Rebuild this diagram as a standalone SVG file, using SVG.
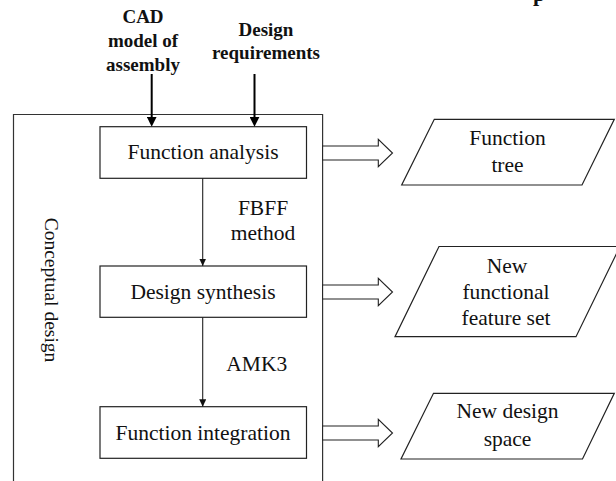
<svg xmlns="http://www.w3.org/2000/svg" width="616" height="481" viewBox="0 0 616 481" font-family="'Liberation Serif', Tinos, 'Times New Roman', serif">
  <style>
    text { font-family: 'Liberation Serif', Tinos, 'Times New Roman', serif; fill: #111; text-anchor: middle; }
    .t { font-size: 21.5px; }
    .b { font-size: 19px; font-weight: bold; }
    .box { fill: #fff; stroke: #222; stroke-width: 1.2; }
    .frame { fill: none; stroke: #333; stroke-width: 1.2; }
    .thin { fill: none; stroke: #222; stroke-width: 1.1; marker-end: url(#headS); }
    .thick { fill: none; stroke: #000; stroke-width: 2; marker-end: url(#headL); }
    .block { fill: #fff; stroke: #222; stroke-width: 1.1; stroke-linejoin: miter; }
  </style>
  <defs>
    <marker id="headL" markerUnits="userSpaceOnUse" markerWidth="10" markerHeight="10" refX="4" refY="5" orient="auto">
      <path d="M0,0 L10,5 L0,10 z" fill="#000"/>
    </marker>
    <marker id="headS" markerUnits="userSpaceOnUse" markerWidth="8" markerHeight="8" refX="7.5" refY="3.5" orient="auto">
      <path d="M0,0 L7.5,3.5 L0,7 z" fill="#111"/>
    </marker>
  </defs>

  <rect width="616" height="481" fill="#fff"/>

  <!-- clipped heading fragment at the top edge -->
  <text x="539" y="1" class="b" font-family="Liberation Serif, serif" style="font-size:22px">p</text>

  <!-- inputs -->
  <g id="input-cad" font-family="Liberation Serif, serif">
    <text class="b" x="143" y="23.3">CAD</text>
    <text class="b" x="143" y="47">model of</text>
    <text class="b" x="143" y="70.5">assembly</text>
  </g>
  <g id="input-requirements" font-family="Liberation Serif, serif">
    <text class="b" x="266" y="35.5">Design</text>
    <text class="b" x="266" y="58.5">requirements</text>
  </g>

  <!-- conceptual design frame -->
  <g id="conceptual-design" font-family="Liberation Serif, serif">
    <path class="frame" d="M13.5,482 V114.5 H322.6 V482"/>
    <text class="t" style="font-size:19.5px" transform="translate(45,290) rotate(90)" x="0" y="0">Conceptual design</text>
  </g>

  <!-- process steps -->
  <g id="function-analysis" font-family="Liberation Serif, serif">
    <rect class="box" x="100" y="126.7" width="206.5" height="51.6"/>
    <text class="t" x="203" y="159">Function analysis</text>
  </g>
  <g id="design-synthesis" font-family="Liberation Serif, serif">
    <rect class="box" x="100" y="266" width="206.5" height="51.3"/>
    <text class="t" x="203" y="298.5">Design synthesis</text>
  </g>
  <g id="function-integration" font-family="Liberation Serif, serif">
    <rect class="box" x="100" y="406.7" width="206.5" height="51.6"/>
    <text class="t" x="203" y="440">Function integration</text>
  </g>

  <!-- outputs -->
  <g id="function-tree" font-family="Liberation Serif, serif">
    <polygon class="box" points="434.3,119.3 614.3,119.3 582,185 401.7,185"/>
    <text class="t" x="507.5" y="145">Function</text>
    <text class="t" x="507.5" y="171.7">tree</text>
  </g>
  <g id="feature-set" font-family="Liberation Serif, serif">
    <polygon class="box" points="439,246.5 620,246.5 576,336.7 395,336.7"/>
    <text class="t" x="507" y="272.5">New</text>
    <text class="t" x="506" y="298.8">functional</text>
    <text class="t" x="506" y="324.5">feature set</text>
  </g>
  <g id="design-space" font-family="Liberation Serif, serif">
    <polygon class="box" points="433.5,393.3 614.3,393.3 582.5,459 401,459"/>
    <text class="t" x="507.5" y="418.3">New design</text>
    <text class="t" x="507.5" y="445.7">space</text>
  </g>

  <!-- connectors and their labels -->
  <g id="connectors" font-family="Liberation Serif, serif">
    <line class="thick" x1="151.7" y1="74" x2="151.7" y2="120.7"/>
    <line class="thick" x1="254.5" y1="74" x2="254.5" y2="120.7"/>
    <line class="thin" x1="202.7" y1="178.3" x2="202.7" y2="266"/>
    <line class="thin" x1="202.7" y1="317.3" x2="202.7" y2="406.7"/>
    <text class="t" x="263" y="215">FBFF</text>
    <text class="t" x="263" y="240">method</text>
    <text class="t" x="256.7" y="370.7">AMK3</text>
    <polygon class="block" points="322.6,146 378.3,146 378.3,139.3 392.5,153 378.3,166.7 378.3,160 322.6,160"/>
    <polygon class="block" points="322.6,285 378.3,285 378.3,278.3 392.5,292 378.3,305.7 378.3,299 322.6,299"/>
    <polygon class="block" points="322.6,426 378.3,426 378.3,419.3 392.5,433 378.3,446.7 378.3,440 322.6,440"/>
  </g>
</svg>
